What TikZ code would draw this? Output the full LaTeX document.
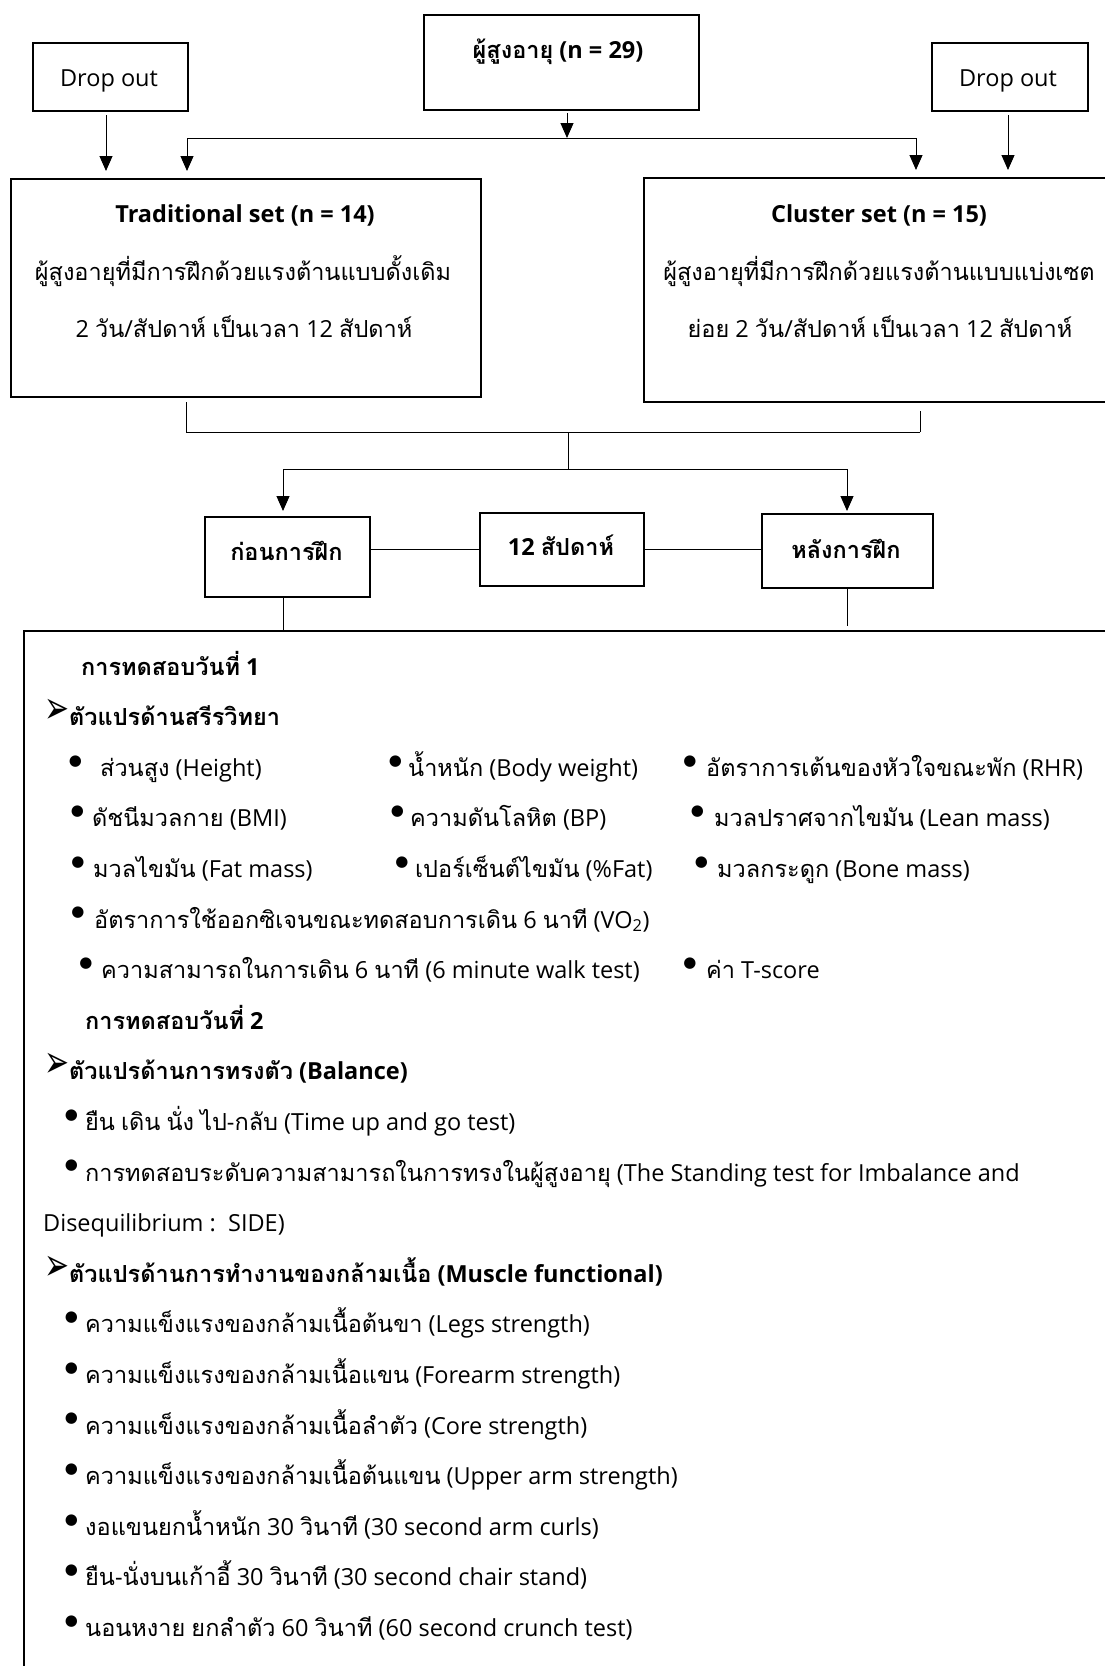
\documentclass[tikz,border=0pt]{standalone}
\usepackage{fontspec}
\usetikzlibrary{arrows.meta}
\setmainfont{Open Sans}
\newfontfamily\thaifam[Script=Thai]{Loma}
\newfontfamily\dvfont{DejaVu Sans}
\XeTeXinterchartokenstate=1
\newXeTeXintercharclass\thaicls
\count255="0E00
\loop
  \XeTeXcharclass\count255=\thaicls
  \ifnum\count255<"0E7F \advance\count255 by 1
\repeat
\XeTeXinterchartoks 0 \thaicls = {\thaifam}
\XeTeXinterchartoks 4095 \thaicls = {\thaifam}
\XeTeXinterchartoks \thaicls 0 = {\rmfamily}
\XeTeXinterchartoks \thaicls 4095 = {\rmfamily}
\begin{document}
\begin{tikzpicture}[x=1pt,y=-1pt,
  box/.style={draw, line width=2.2pt, inner sep=0pt, rectangle, anchor=north west},
  conn/.style={line width=1pt},
  arr/.style={conn, -{Triangle[length=15pt,width=13pt]}},
  txt/.style={inner sep=0pt, anchor=base west, font=\fontsize{23.5}{28}\selectfont},
  ctxt/.style={inner sep=0pt, anchor=base, font=\fontsize{23.5}{28}\selectfont},
  bl/.style={inner sep=0pt, anchor=center, font=\dvfont\fontsize{15}{15}\selectfont},
  ar/.style={inner sep=0pt, anchor=center, font=\dvfont\fontsize{26}{26}\selectfont}]
\useasboundingbox (0,0) rectangle (1105,1666);
% boxes
\node[box, minimum width=275, minimum height=95] (top) at (423,14) {};
\node[box, minimum width=155, minimum height=68] (dropL) at (32,42) {};
\node[box, minimum width=156, minimum height=68] (dropR) at (931,42) {};
\node[box, minimum width=470, minimum height=218] (trad) at (10,178) {};
\node[box, minimum width=480, minimum height=224] (clus) at (643,177) {};
\node[box, minimum width=165, minimum height=80] (pre) at (204,516) {};
\node[box, minimum width=164, minimum height=73] (w12) at (479,512) {};
\node[box, minimum width=171, minimum height=74] (post) at (761,513) {};
\node[box, minimum width=1100, minimum height=1060] (big) at (23,630) {};
% box texts
\node[ctxt] (toptx) at (558,58) {\bfseries ผู้สูงอายุ (n = 29)};
\node[ctxt] (dLtx) at (109,86) {Drop out};
\node[ctxt] (dRtx) at (1008,86) {Drop out};
\node[ctxt] (trt) at (245,222) {\bfseries Traditional set (n = 14)};
\node[ctxt] (tr1) at (243,280) {ผู้สูงอายุที่มีการฝึกด้วยแรงต้านแบบดั้งเดิม};
\node[ctxt] (tr2) at (244,337) {2 วัน/สัปดาห์ เป็นเวลา 12 สัปดาห์};
\node[ctxt] (clt) at (879,222) {\bfseries Cluster set (n = 15)};
\node[ctxt] (cl1) at (879,280) {ผู้สูงอายุที่มีการฝึกด้วยแรงต้านแบบแบ่งเซต};
\node[ctxt] (cl2) at (880,337) {ย่อย 2 วัน/สัปดาห์ เป็นเวลา 12 สัปดาห์};
\node[ctxt] (pretx) at (286.5,560) {\bfseries ก่อนการฝึก};
\node[ctxt] (w12tx) at (561,555) {\bfseries 12 สัปดาห์};
\node[ctxt] (posttx) at (846,558) {\bfseries หลังการฝึก};
% junction coordinates
\coordinate (t0) at (567,113);
\coordinate (j1) at (567,138);
\coordinate (jL) at (187,138);
\coordinate (jR) at (916,138);
\coordinate (aL) at (106,138);
\coordinate (aR) at (1008,138);
\coordinate (bL) at (186,432);
\coordinate (bR) at (920,432);
\coordinate (bC) at (568,432);
\coordinate (cC) at (568,469);
\coordinate (cL) at (283,469);
\coordinate (cR) at (847,469);
% connectors top
\draw[arr] (t0) -- (j1);
\draw[conn] (jL) -- (jR);
\draw[arr, shorten >=7pt] (jL) -- (trad.north -| jL);
\draw[arr, shorten >=7pt] (jR) -- (clus.north -| jR);
\draw[arr, shorten <=3pt, shorten >=7pt] (dropL.south -| aL) -- (trad.north -| aL);
\draw[arr, shorten <=3pt, shorten >=7pt] (dropR.south -| aR) -- (clus.north -| aR);
% connectors middle
\draw[conn, shorten <=4pt] (trad.south -| bL) -- (bL) -- (bR);
\draw[conn, shorten <=8pt] (clus.south -| bR) -- (bR);
\draw[conn] (bC) -- (cC);
\draw[conn] (cL) -- (cR);
\draw[arr, shorten >=5pt] (cL) -- (pre.north -| cL);
\draw[arr, shorten >=2pt] (cR) -- (post.north -| cR);
\draw[conn] (pre.east |- w12.west) -- (w12.west);
\draw[conn] (w12.east) -- (post.west |- w12.east);
\draw[conn] (pre.south -| cL) -- (big.north -| cL);
\draw[conn, shorten >=4pt] (post.south -| cR) -- (big.north -| cR);
% list content
\node[txt] (d1) at (81,675) {\bfseries การทดสอบวันที่ 1};
\node[ar] (h1a) at (57.5,711.6) {\scalebox{1.15}[1.75]{➢}};
\node[txt] (h1) at (69,725.6) {\bfseries ตัวแปรด้านสรีรวิทยา};
% row 1
\node[bl] (r1ab) at (75.5,761.2) {●};
\node[txt] (r1a) at (100,776.2) {ส่วนสูง (Height)};
\node[bl] (r1bb) at (395.5,761.2) {●};
\node[txt] (r1b) at (408,776.2) {น้ำหนัก (Body weight)};
\node[bl] (r1cb) at (690,761.2) {●};
\node[txt] (r1c) at (706,776.2) {อัตราการเต้นของหัวใจขณะพัก (RHR)};
% row 2
\node[bl] (r2ab) at (77.5,811.8) {●};
\node[txt] (r2a) at (92,826.8) {ดัชนีมวลกาย (BMI)};
\node[bl] (r2bb) at (397.5,811.8) {●};
\node[txt] (r2b) at (410,826.8) {ความดันโลหิต (BP)};
\node[bl] (r2cb) at (697.5,811.8) {●};
\node[txt] (r2c) at (714,826.8) {มวลปราศจากไขมัน (Lean mass)};
% row 3
\node[bl] (r3ab) at (78,862.4) {●};
\node[txt] (r3a) at (93,877.4) {มวลไขมัน (Fat mass)};
\node[bl] (r3bb) at (402,862.4) {●};
\node[txt] (r3b) at (415,877.4) {เปอร์เซ็นต์ไขมัน (\%Fat)};
\node[bl] (r3cb) at (701.5,862.4) {●};
\node[txt] (r3c) at (717,877.4) {มวลกระดูก (Bone mass)};
% row 4
\node[bl] (r4ab) at (78,913) {●};
\node[txt] (r4a) at (94,928) {อัตราการใช้ออกซิเจนขณะทดสอบการเดิน 6 นาที (VO\textsubscript{2})};
% row 5
\node[bl] (r5ab) at (86,963.6) {●};
\node[txt] (r5a) at (101,978.6) {ความสามารถในการเดิน 6 นาที (6 minute walk test)};
\node[bl] (r5bb) at (690,963.6) {●};
\node[txt] (r5b) at (706,978.6) {ค่า T-score};
% day 2
\node[txt] (d2) at (85,1029.2) {\bfseries การทดสอบวันที่ 2};
\node[ar] (h2a) at (57.5,1065.8) {\scalebox{1.15}[1.75]{➢}};
\node[txt] (h2) at (69,1079.8) {\bfseries ตัวแปรด้านการทรงตัว (Balance)};
\node[bl] (b1b) at (71.5,1115.4) {●};
\node[txt] (b1) at (85,1130.4) {ยืน เดิน นั่ง ไป-กลับ (Time up and go test)};
\node[bl] (b2b) at (71.5,1166) {●};
\node[txt] (b2) at (85,1181) {การทดสอบระดับความสามารถในการทรงในผู้สูงอายุ (The Standing test for Imbalance and};
\node[txt] (b2c) at (43,1231.6) {Disequilibrium :\ \ SIDE)};
\node[ar] (h3a) at (57.5,1268.2) {\scalebox{1.15}[1.75]{➢}};
\node[txt] (h3) at (69,1282.2) {\bfseries ตัวแปรด้านการทำงานของกล้ามเนื้อ (Muscle functional)};
\node[bl] (m1b) at (71.5,1317.8) {●};
\node[txt] (m1) at (85,1332.8) {ความแข็งแรงของกล้ามเนื้อต้นขา (Legs strength)};
\node[bl] (m2b) at (71.5,1368.4) {●};
\node[txt] (m2) at (85,1383.4) {ความแข็งแรงของกล้ามเนื้อแขน (Forearm strength)};
\node[bl] (m3b) at (71.5,1419) {●};
\node[txt] (m3) at (85,1434) {ความแข็งแรงของกล้ามเนื้อลำตัว (Core strength)};
\node[bl] (m4b) at (71.5,1469.6) {●};
\node[txt] (m4) at (85,1484.6) {ความแข็งแรงของกล้ามเนื้อต้นแขน (Upper arm strength)};
\node[bl] (m5b) at (71.5,1520.2) {●};
\node[txt] (m5) at (85,1535.2) {งอแขนยกน้ำหนัก 30 วินาที (30 second arm curls)};
\node[bl] (m6b) at (71.5,1570.8) {●};
\node[txt] (m6) at (85,1585.8) {ยืน-นั่งบนเก้าอี้ 30 วินาที (30 second chair stand)};
\node[bl] (m7b) at (71.5,1621.4) {●};
\node[txt] (m7) at (85,1636.4) {นอนหงาย ยกลำตัว 60 วินาที (60 second crunch test)};
\end{tikzpicture}
\end{document}
